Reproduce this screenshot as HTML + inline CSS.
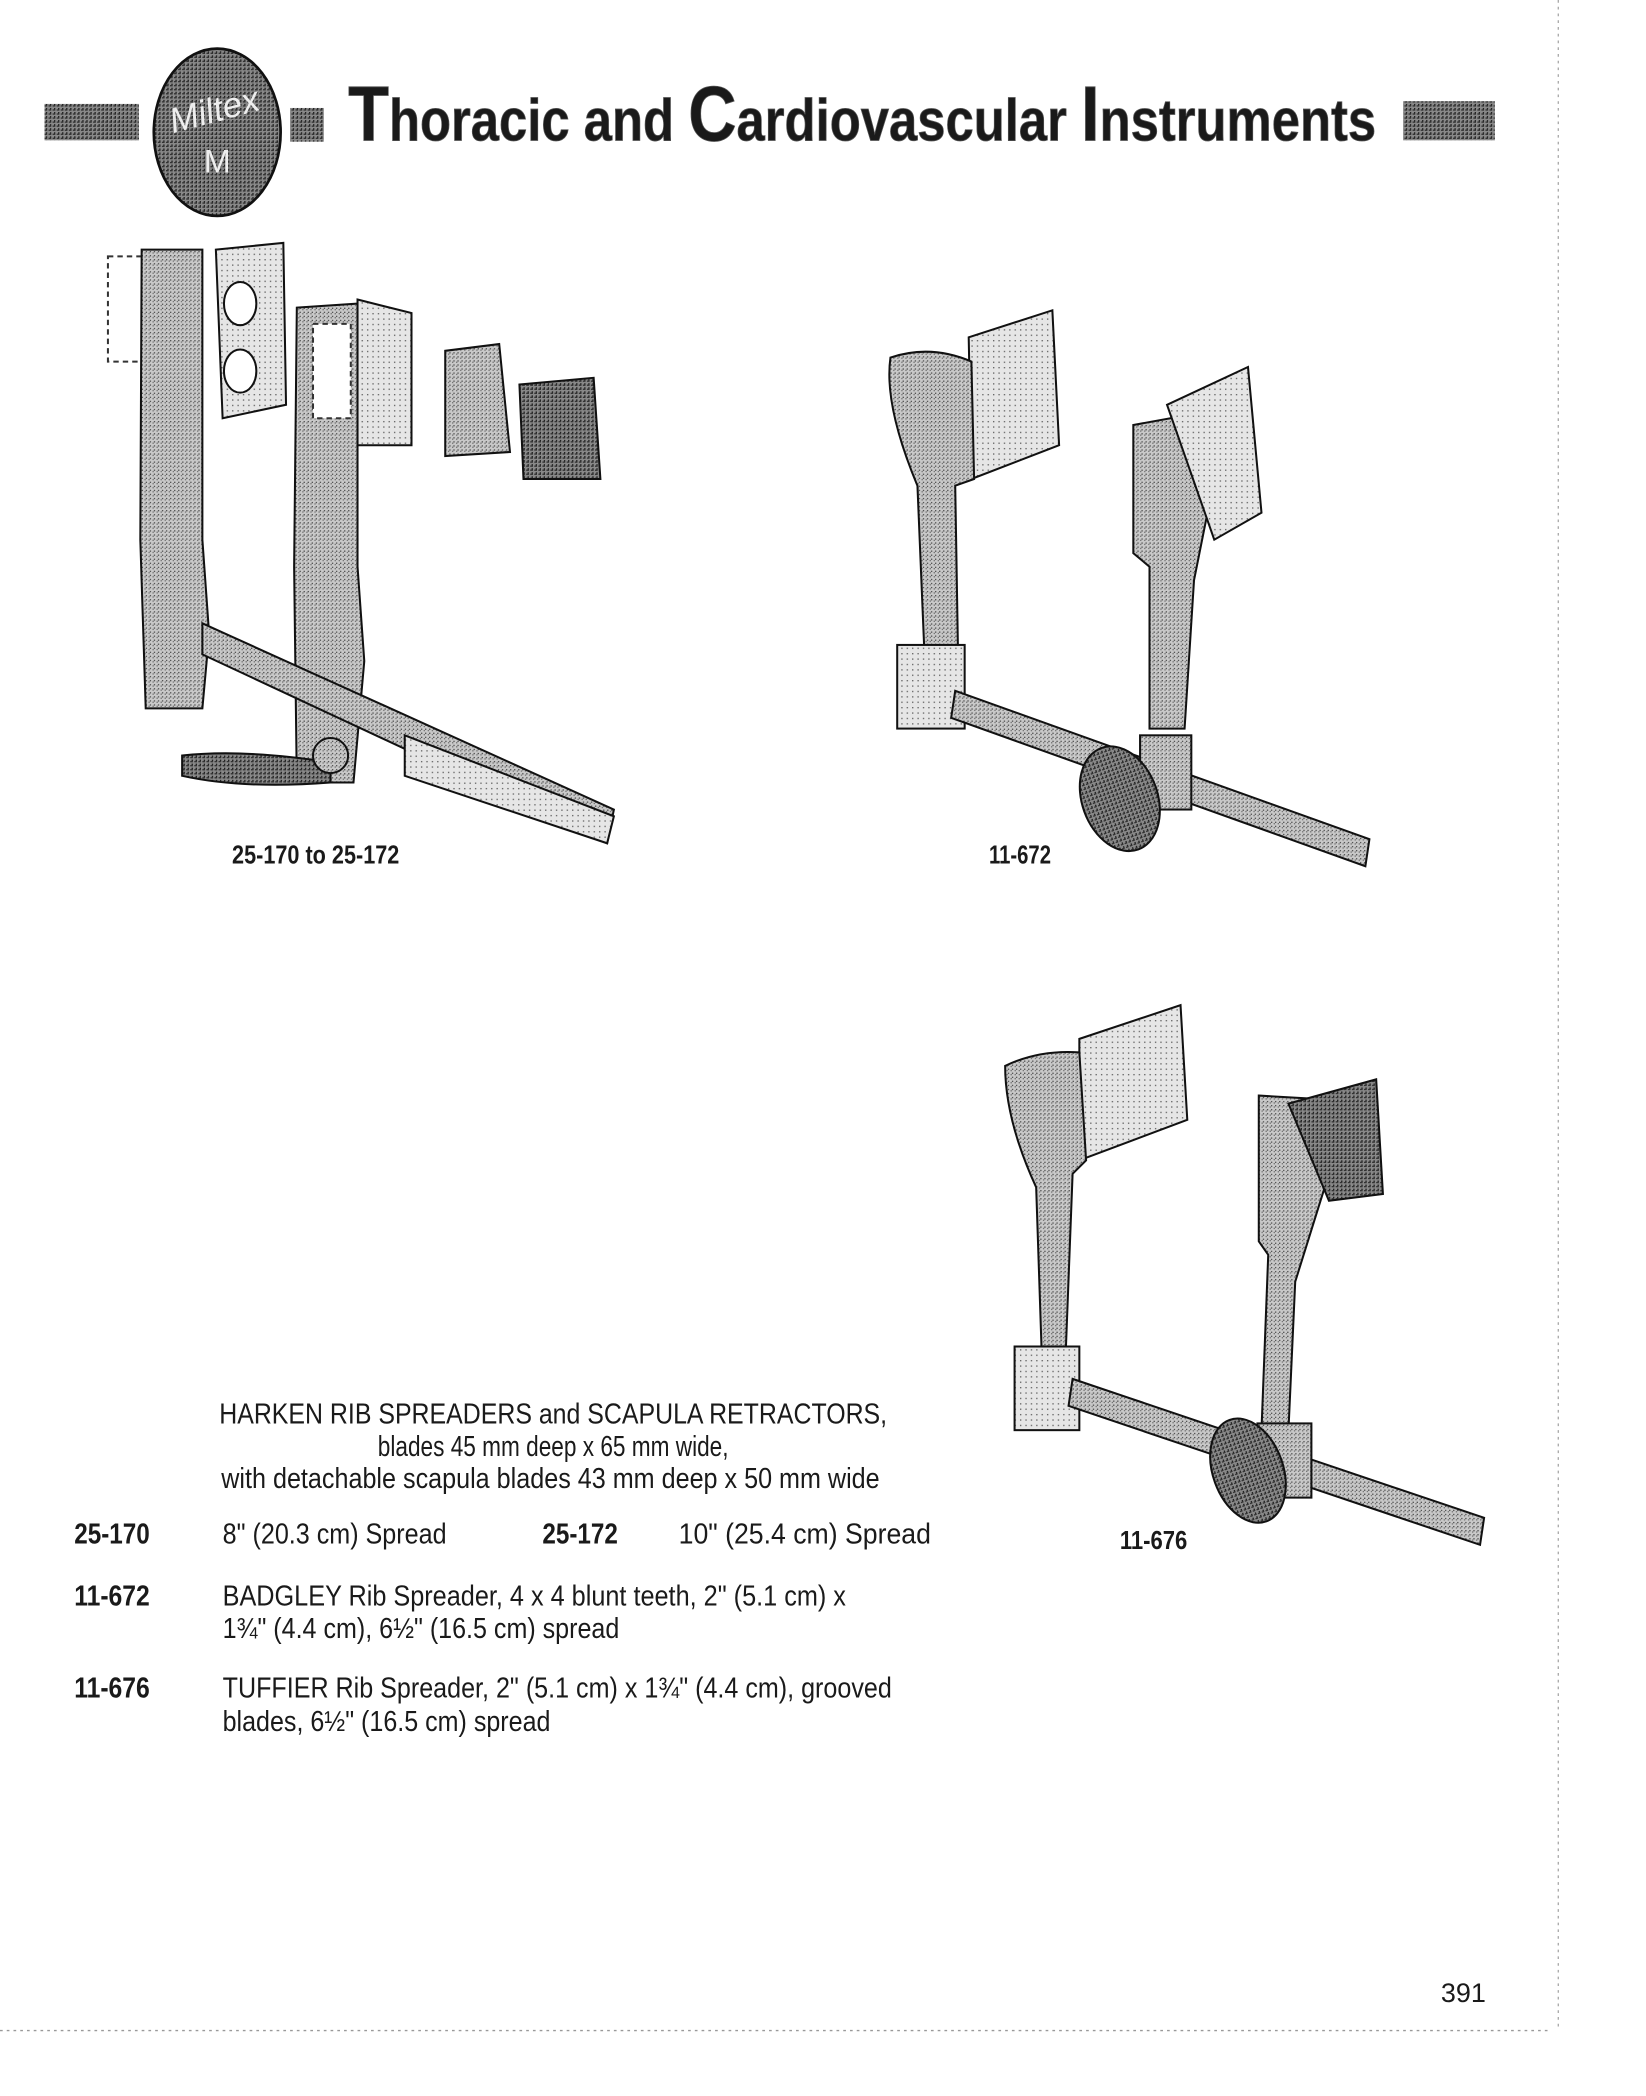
<!DOCTYPE html>
<html><head><meta charset="utf-8"><style>
html,body{margin:0;padding:0;background:#fff}
svg{display:block}
text{font-family:"Liberation Sans",sans-serif;fill:#1a1a1a}
</style></head><body>
<svg width="1646" height="2096" viewBox="0 0 1220 1553.5" xmlns="http://www.w3.org/2000/svg">
<defs>
<pattern id="g" width="3" height="3" patternUnits="userSpaceOnUse"><rect width="3" height="3" fill="#c8c8c8"/><rect width="1" height="1" fill="#555"/><rect x="2" y="1" width="1" height="1" fill="#777"/></pattern>
<pattern id="d" width="3" height="3" patternUnits="userSpaceOnUse"><rect width="3" height="3" fill="#888"/><rect width="2" height="1" fill="#333"/><rect x="1" y="2" width="1" height="1" fill="#222"/></pattern>
<pattern id="l" width="4" height="4" patternUnits="userSpaceOnUse"><rect width="4" height="4" fill="#e6e6e6"/><rect width="1" height="1" fill="#666"/></pattern>
</defs>
<!-- header -->
<rect x="33" y="77" width="70" height="27" fill="url(#d)"/>
<ellipse cx="161" cy="98" rx="47" ry="62" fill="url(#d)" stroke="#111" stroke-width="2"/>
<text x="161" y="90" font-size="26" font-style="italic" text-anchor="middle" fill="#fff" style="fill:#eee" transform="rotate(-15 161 90)">Miltex</text>
<text x="161" y="128" font-size="24" text-anchor="middle" style="fill:#eee">M</text>
<rect x="215" y="80" width="25" height="25" fill="url(#d)"/>
<text x="258" y="104" font-size="44" font-weight="bold" textLength="762" lengthAdjust="spacingAndGlyphs" stroke="#555" stroke-width="0.6"><tspan font-size="58">T</tspan>horacic and <tspan font-size="58">C</tspan>ardiovascular <tspan font-size="58">I</tspan>nstruments</text>
<rect x="1040" y="75" width="68" height="29" fill="url(#d)"/>
<line x1="1155" y1="0" x2="1155" y2="1505" stroke="#aaa" stroke-width="1" stroke-dasharray="2 3"/>
<line x1="0" y1="1505" x2="1150" y2="1505" stroke="#999" stroke-width="1" stroke-dasharray="2 3"/>
<!-- Harken -->
<g stroke="#111" stroke-width="1.5">
<rect x="80" y="190" width="28" height="78" fill="#fff" stroke="#333" stroke-dasharray="4 3"/>
<path d="M105 185 L150 185 L150 400 L155 470 L150 525 L108 525 L104 400 Z" fill="url(#g)"/>
<path d="M160 185 L210 180 L212 300 L165 310 Z" fill="url(#l)"/>
<ellipse cx="178" cy="225" rx="12" ry="16" fill="#fff"/><ellipse cx="178" cy="275" rx="12" ry="16" fill="#fff"/>
<path d="M220 228 L265 225 L265 420 L270 490 L262 580 L220 580 L218 420 Z" fill="url(#g)"/>
<path d="M265 222 L305 232 L305 330 L265 330 Z" fill="url(#l)"/>
<rect x="232" y="240" width="28" height="70" fill="#fff" stroke="#333" stroke-dasharray="4 3"/>
<path d="M150 462 L455 600 L450 625 L150 485 Z" fill="url(#g)"/>
<path d="M300 545 L455 605 L450 625 L300 575 Z" fill="url(#l)"/>
<path d="M135 560 Q180 555 245 565 L245 580 Q180 585 135 575 Z" fill="url(#d)"/>
<circle cx="245" cy="560" r="13" fill="url(#g)"/>
<path d="M330 260 L370 255 L378 335 L330 338 Z" fill="url(#g)"/>
<path d="M385 285 L440 280 L445 355 L388 355 Z" fill="url(#d)"/>
</g>
<text x="172" y="640" font-size="19" font-weight="bold" textLength="124" lengthAdjust="spacingAndGlyphs">25-170 to 25-172</text>
<!-- Badgley -->
<g stroke="#111" stroke-width="1.5">
<path d="M718 250 L780 230 L785 330 L720 355 Z" fill="url(#l)"/>
<path d="M660 265 Q690 255 720 268 L722 355 L708 360 L710 480 L685 480 L680 360 Q655 300 660 265 Z" fill="url(#g)"/>
<rect x="665" y="478" width="50" height="62" fill="url(#l)"/>
<path d="M708 512 L1015 622 L1012 642 L705 532 Z" fill="url(#g)"/>
<path d="M840 315 L895 305 Q905 330 900 355 L885 430 L878 540 L852 540 L852 420 L840 410 Z" fill="url(#g)"/>
<path d="M865 300 L925 272 L935 380 L900 400 Z" fill="url(#l)"/>
<rect x="845" y="545" width="38" height="55" fill="url(#g)"/>
<ellipse cx="830" cy="592" rx="28" ry="40" fill="url(#d)" transform="rotate(-20 830 592)"/>
</g>
<text x="733" y="640" font-size="19" font-weight="bold" textLength="46" lengthAdjust="spacingAndGlyphs">11-672</text>
<!-- Tuffier -->
<g stroke="#111" stroke-width="1.5">
<path d="M800 770 L875 745 L880 830 L800 860 Z" fill="url(#l)"/>
<path d="M745 790 Q770 778 800 780 L805 860 L795 870 L790 1000 L772 1000 L768 880 Q745 830 745 790 Z" fill="url(#g)"/>
<rect x="752" y="998" width="48" height="62" fill="url(#l)"/>
<path d="M795 1022 L1100 1125 L1097 1145 L792 1042 Z" fill="url(#g)"/>
<path d="M933 812 L985 815 Q995 840 985 870 L960 950 L955 1060 L935 1060 L940 930 L933 920 Z" fill="url(#g)"/>
<path d="M955 818 L1020 800 L1025 885 L985 890 Z" fill="url(#d)"/>
<rect x="932" y="1055" width="40" height="55" fill="url(#g)"/>
<ellipse cx="925" cy="1090" rx="26" ry="40" fill="url(#d)" transform="rotate(-20 925 1090)"/>
</g>
<text x="830" y="1148" font-size="19" font-weight="bold" textLength="50" lengthAdjust="spacingAndGlyphs">11-676</text>
<!-- body text -->
<g font-size="21">
<text x="410" y="1055" text-anchor="middle" textLength="495" lengthAdjust="spacingAndGlyphs">HARKEN RIB SPREADERS and SCAPULA RETRACTORS,</text>
<text x="410" y="1079" text-anchor="middle" textLength="260" lengthAdjust="spacingAndGlyphs">blades 45 mm deep x 65 mm wide,</text>
<text x="408" y="1103" text-anchor="middle" textLength="488" lengthAdjust="spacingAndGlyphs">with detachable scapula blades 43 mm deep x 50 mm wide</text>
<text x="55" y="1144" font-weight="bold" textLength="56" lengthAdjust="spacingAndGlyphs">25-170</text>
<text x="165" y="1144" textLength="166" lengthAdjust="spacingAndGlyphs">8" (20.3 cm) Spread</text>
<text x="402" y="1144" font-weight="bold" textLength="56" lengthAdjust="spacingAndGlyphs">25-172</text>
<text x="503" y="1144" textLength="187" lengthAdjust="spacingAndGlyphs">10" (25.4 cm) Spread</text>
<text x="55" y="1190" font-weight="bold" textLength="56" lengthAdjust="spacingAndGlyphs">11-672</text>
<text x="165" y="1190" textLength="462" lengthAdjust="spacingAndGlyphs">BADGLEY Rib Spreader, 4 x 4 blunt teeth, 2" (5.1 cm) x</text>
<text x="165" y="1214" textLength="294" lengthAdjust="spacingAndGlyphs">1¾" (4.4 cm), 6½" (16.5 cm) spread</text>
<text x="55" y="1258" font-weight="bold" textLength="56" lengthAdjust="spacingAndGlyphs">11-676</text>
<text x="165" y="1258" textLength="496" lengthAdjust="spacingAndGlyphs">TUFFIER Rib Spreader, 2" (5.1 cm) x 1¾" (4.4 cm), grooved</text>
<text x="165" y="1283" textLength="243" lengthAdjust="spacingAndGlyphs">blades, 6½" (16.5 cm) spread</text>
<text x="1068" y="1484" font-size="20">391</text>
</g>
</svg>
</body></html>
